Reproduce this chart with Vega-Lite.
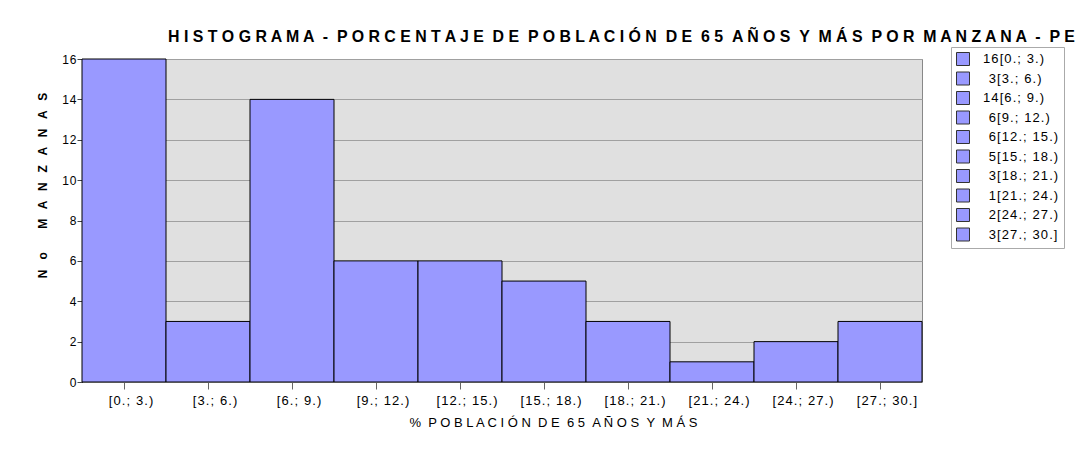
{
  "$schema": "https://vega.github.io/schema/vega-lite/v6.json",
  "autosize": {"type": "none"},
  "width": 840,
  "height": 323,
  "padding": {"left": 82, "top": 59, "right": 156, "bottom": 76},
  "background": "white",
  "data": {
    "values": [
      {"intervalo": "[0.; 3.)", "manzanas": 16, "leyenda": "16[0.; 3.)"},
      {"intervalo": "[3.; 6.)", "manzanas": 3, "leyenda": "\u200b\u00a03[3.; 6.)"},
      {"intervalo": "[6.; 9.)", "manzanas": 14, "leyenda": "14[6.; 9.)"},
      {"intervalo": "[9.; 12.)", "manzanas": 6, "leyenda": "\u200b\u00a06[9.; 12.)"},
      {"intervalo": "[12.; 15.)", "manzanas": 6, "leyenda": "\u200b\u00a06[12.; 15.)"},
      {"intervalo": "[15.; 18.)", "manzanas": 5, "leyenda": "\u200b\u00a05[15.; 18.)"},
      {"intervalo": "[18.; 21.)", "manzanas": 3, "leyenda": "\u200b\u00a03[18.; 21.)"},
      {"intervalo": "[21.; 24.)", "manzanas": 1, "leyenda": "\u200b\u00a01[21.; 24.)"},
      {"intervalo": "[24.; 27.)", "manzanas": 2, "leyenda": "\u200b\u00a02[24.; 27.)"},
      {"intervalo": "[27.; 30.]", "manzanas": 3, "leyenda": "\u200b\u00a03[27.; 30.]"}
    ]
  },
  "title": {
    "text": "H I S T O G R A M A \u00a0- \u00a0P O R C E N T A J E \u00a0D E \u00a0P O B L A C I Ó N \u00a0D E \u00a06 5 \u00a0A Ñ O S \u00a0Y \u00a0M Á S \u00a0P O R \u00a0M A N Z A N A \u00a0- \u00a0P E",
    "anchor": "start",
    "frame": "group",
    "dx": 86,
    "offset": 2,
    "font": "Liberation Sans",
    "fontSize": 15.9,
    "fontWeight": "bold",
    "color": "black"
  },
  "mark": {"type": "bar", "stroke": "black", "strokeWidth": 1, "opacity": 1},
  "encoding": {
    "x": {
      "field": "intervalo",
      "type": "ordinal",
      "sort": null,
      "scale": {"paddingInner": 0, "paddingOuter": 0},
      "axis": {
        "title": "% \u00a0P O B L A C I Ó N \u00a0D E \u00a06 5 \u00a0A Ñ O S \u00a0Y \u00a0M Á S",
        "titleFont": "Liberation Sans",
        "titleFontSize": 13,
        "titleFontWeight": "normal",
        "titleColor": "black",
        "titleX": 471,
        "titlePadding": 9,
        "labelAngle": 0,
        "labelOffset": 7,
        "labelExpr": "join(split(datum.label, ''), '\u200a')",
        "labelFont": "Liberation Sans",
        "labelFontSize": 13,
        "labelColor": "black",
        "labelPadding": 5,
        "domainColor": "#aaaaaa",
        "tickColor": "#666666",
        "tickSize": 7,
        "grid": false
      }
    },
    "y": {
      "field": "manzanas",
      "type": "quantitative",
      "scale": {"domain": [0, 16], "nice": false},
      "axis": {
        "title": "N \u00a0 o \u00a0 \u00a0 \u00a0 M \u00a0 A \u00a0 N \u00a0 Z \u00a0 A \u00a0 N \u00a0 A \u00a0 S",
        "titleFont": "Liberation Sans",
        "titleFontSize": 12,
        "titleFontWeight": "bold",
        "titleColor": "black",
        "titleY": 126,
        "titlePadding": 12,
        "values": [0, 2, 4, 6, 8, 10, 12, 14, 16],
        "labelExpr": "join(split(datum.label, ''), '\u200a')",
        "labelFont": "Liberation Sans",
        "labelFontSize": 12,
        "labelColor": "black",
        "labelPadding": 1,
        "domainColor": "black",
        "tickColor": "#444444",
        "tickSize": 5,
        "grid": true,
        "gridColor": "#a0a0a0",
        "gridWidth": 1
      }
    },
    "color": {
      "field": "leyenda",
      "type": "nominal",
      "scale": {
        "domain": ["16[0.; 3.)", "\u200b\u00a03[3.; 6.)", "14[6.; 9.)", "\u200b\u00a06[9.; 12.)", "\u200b\u00a06[12.; 15.)", "\u200b\u00a05[15.; 18.)", "\u200b\u00a03[18.; 21.)", "\u200b\u00a01[21.; 24.)", "\u200b\u00a02[24.; 27.)", "\u200b\u00a03[27.; 30.]"],
        "range": ["#9999ff", "#9999ff", "#9999ff", "#9999ff", "#9999ff", "#9999ff", "#9999ff", "#9999ff", "#9999ff", "#9999ff"]
      },
      "legend": {
        "title": null,
        "orient": "none",
        "legendX": 869,
        "legendY": -12,
        "symbolType": "square",
        "symbolSize": 169,
        "symbolStrokeColor": "#333333",
        "symbolStrokeWidth": 1,
        "symbolOpacity": 1,
        "labelExpr": "join(split(datum.label, ''), '\u200a')",
        "labelFont": "Liberation Sans",
        "labelFontSize": 13,
        "labelColor": "black",
        "labelOffset": 13,
        "rowPadding": 1.5,
        "padding": 5,
        "strokeColor": "#aaaaaa",
        "fillColor": "white"
      }
    }
  },
  "config": {
    "view": {"fill": "#e0e0e0", "stroke": "#888888", "strokeWidth": 1}
  }
}
